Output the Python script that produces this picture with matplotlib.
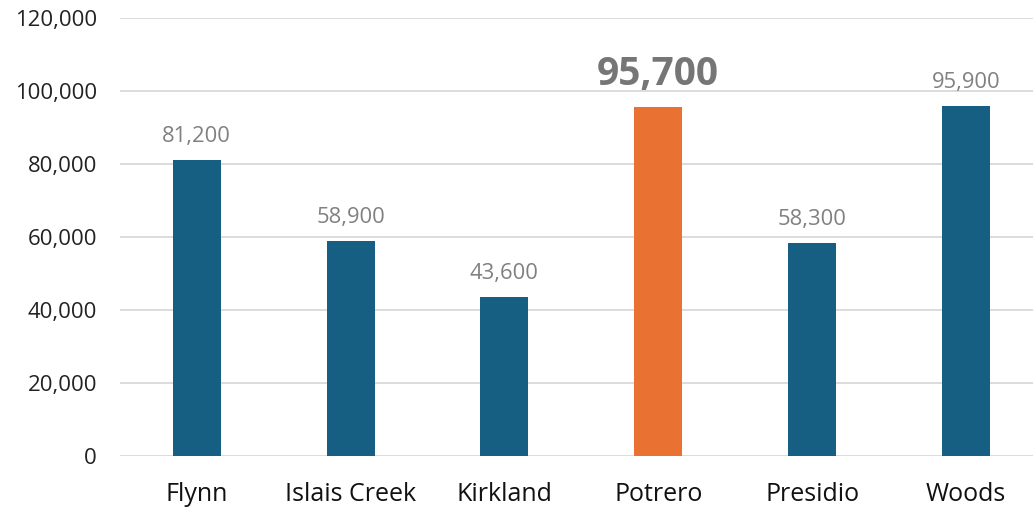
import matplotlib.pyplot as plt
from matplotlib.ticker import FuncFormatter

plt.rcParams['font.family'] = ['Open Sans', 'DejaVu Sans']

categories = ['Flynn', 'Islais Creek', 'Kirkland', 'Potrero', 'Presidio', 'Woods']
values = [81200, 58900, 43600, 95700, 58300, 95900]
highlight = 'Potrero'

blue = '#175F82'
orange = '#E97132'

fig = plt.figure(figsize=(10.33, 5.07), dpi=100)
ax = fig.add_axes([0.116, 0.1006, 0.8935, 0.864])

colors = [orange if c == highlight else blue for c in categories]
x = range(len(categories))
ax.bar(x, values, width=0.312, color=colors, zorder=3)

for i, (c, v) in enumerate(zip(categories, values)):
    if c == highlight:
        ax.text(i, v + 3600, f'{v:,}', ha='center', va='bottom',
                fontsize=28, fontweight='bold', color='#767676')
    else:
        ax.text(i, v + 3500, f'{v:,}', ha='center', va='bottom',
                fontsize=15.8, color='#808080')

ax.set_xlim(-0.5, len(categories) - 0.5)
ax.set_ylim(0, 120000)
ax.set_yticks(range(0, 120001, 20000))
ax.yaxis.set_major_formatter(FuncFormatter(lambda v, p: f'{int(v):,}'))
ax.set_xticks(list(x))
ax.set_xticklabels(categories)

ax.grid(axis='y', color='#d9d9d9', linewidth=1.3, zorder=0)
for s in ax.spines.values():
    s.set_visible(False)
ax.tick_params(axis='y', length=0, pad=16.5, labelsize=15.9, labelcolor='#222222')
ax.tick_params(axis='x', length=0, pad=18.5, labelsize=18, labelcolor='#111111')

fig.savefig('out.png', dpi=100)
